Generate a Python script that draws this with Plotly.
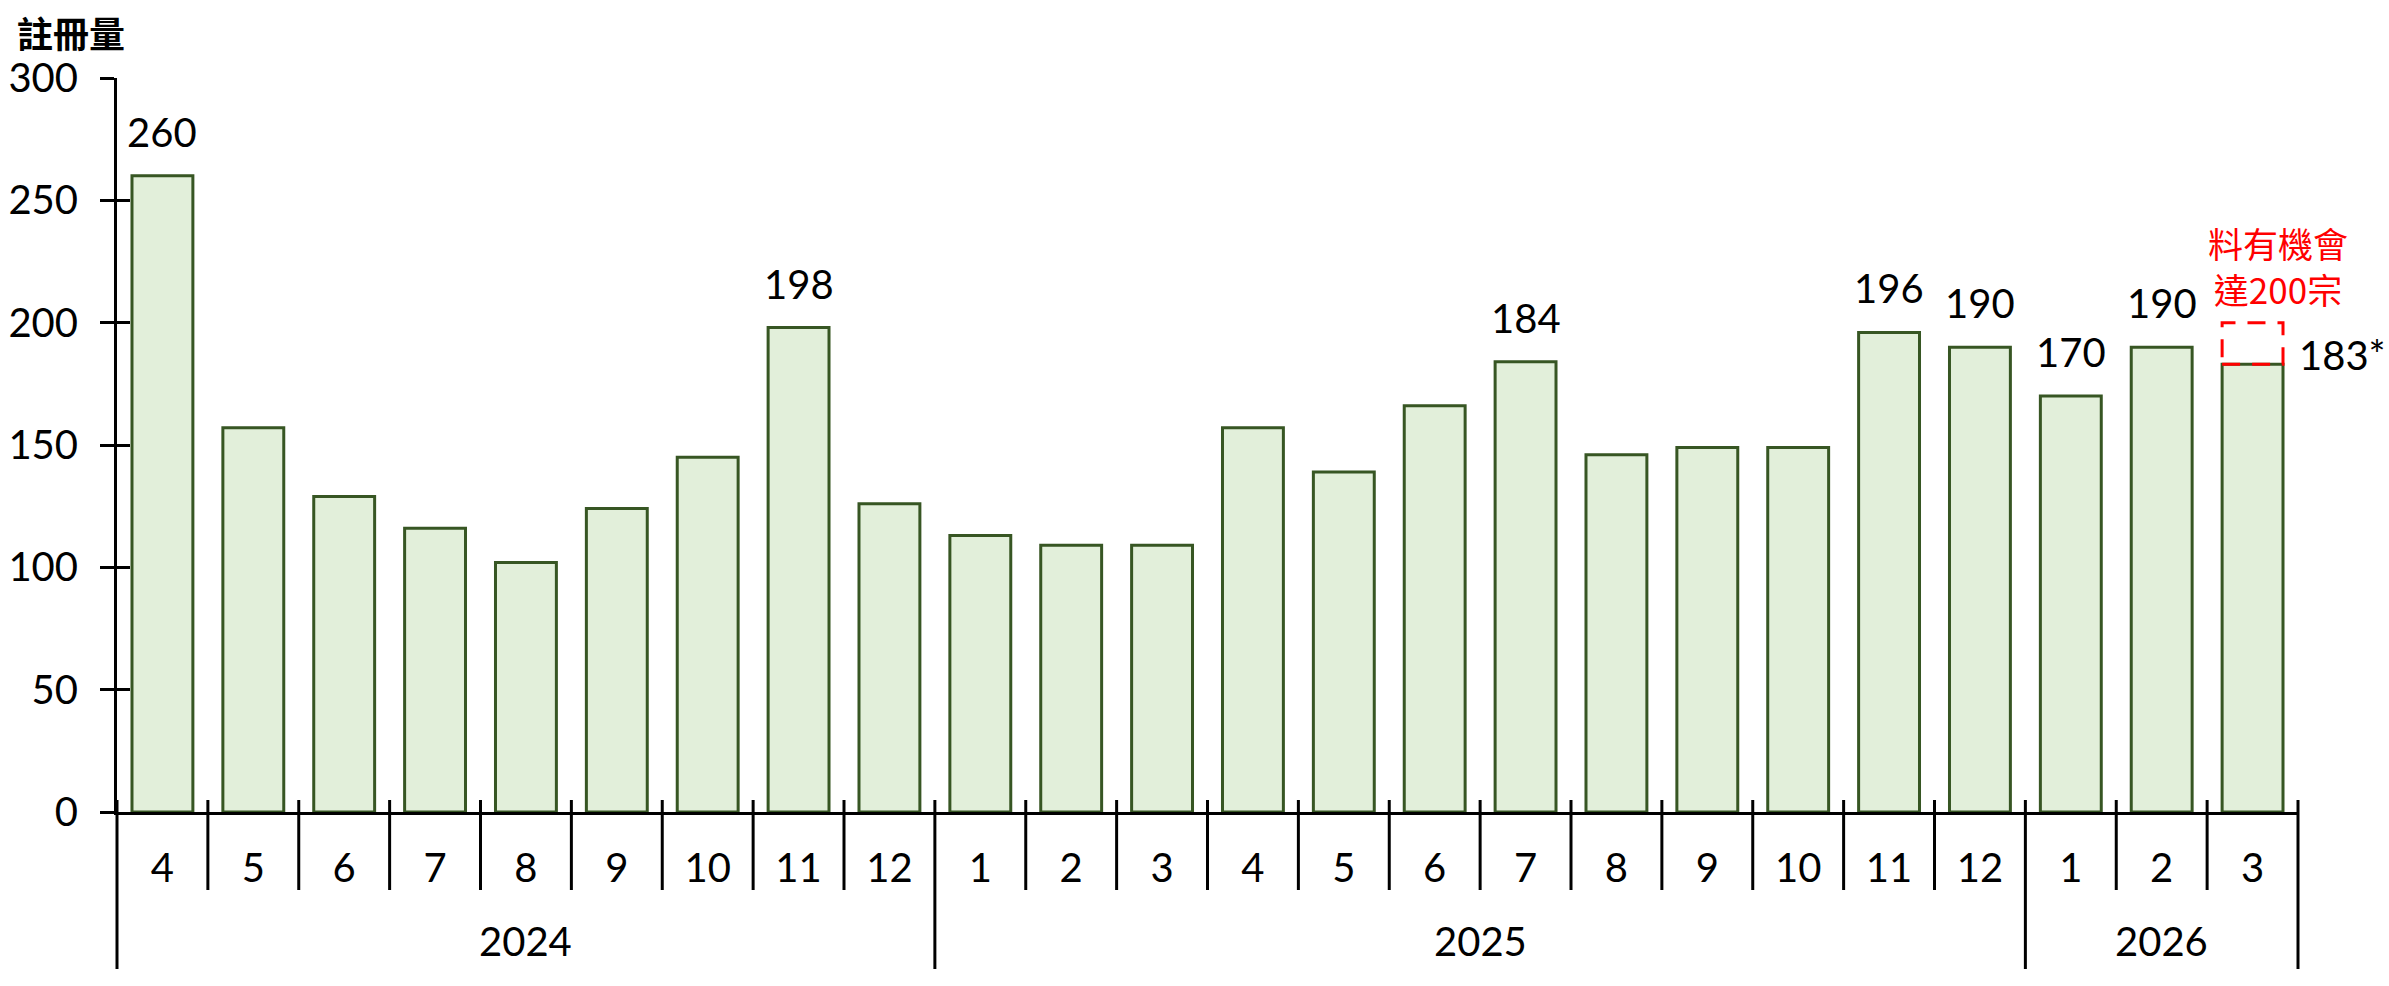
import plotly.graph_objects as go

# ---------------- data ----------------
months = ["4", "5", "6", "7", "8", "9", "10", "11", "12",
          "1", "2", "3", "4", "5", "6", "7", "8", "9", "10", "11", "12",
          "1", "2", "3"]
year_labels = ["2024", "2025", "2026"]
year_counts = [9, 12, 3]
registrations = [260, 157, 129, 116, 102, 124, 145, 198, 126,
                 113, 109, 109, 157, 139, 166, 184, 146, 149, 149, 196, 190,
                 170, 190, 183]
labelled_idx = [0, 7, 15, 19, 20, 21, 22]
target_value = 200
y_ticks = [0, 50, 100, 150, 200, 250, 300]
y_title = "註冊量"
target_text = "料有機會<br>達200宗"
latest_suffix = "*"

# ---------------- styles ----------------
W, H = 2389, 986
FONT = "Lato, 'Noto Sans CJK TC', sans-serif"
CJK = "'Noto Sans CJK TC', sans-serif"
FILL = "#E2EFDA"
EDGE = "#375623"
BAR_W = 0.67
NUM_SIZE = 40

x = list(range(len(registrations)))
n = len(x)

fig = go.Figure()
fig.add_trace(go.Bar(
    x=x, y=registrations, width=BAR_W,
    marker=dict(color=FILL, line=dict(color=EDGE, width=3)),
    hoverinfo="skip", showlegend=False,
))
# invisible trace on overlay axis to render inner tick halves
fig.add_trace(go.Scatter(x=[x[0]], y=[0], yaxis="y2", mode="markers",
                         marker=dict(opacity=0), showlegend=False, hoverinfo="skip"))

fig.update_layout(
    width=W, height=H,
    margin=dict(l=117, r=91, t=78, b=174, autoexpand=False),
    paper_bgcolor="white", plot_bgcolor="white",
    font=dict(family=FONT, color="black"),
    bargap=0.33,
    xaxis=dict(
        range=[-0.5, n - 0.5],
        tickvals=x, ticktext=months,
        showline=True, linecolor="black", linewidth=3,
        ticks="", showgrid=False, zeroline=False,
        tickfont=dict(size=NUM_SIZE, family=FONT),
        ticklabelstandoff=19, automargin=False,
    ),
    yaxis=dict(
        range=[0, 300], tickvals=y_ticks,
        showline=True, linecolor="black", linewidth=3,
        ticks="outside", ticklen=14, tickwidth=3, tickcolor="black",
        showgrid=False, zeroline=False,
        tickfont=dict(size=NUM_SIZE, family=FONT),
        ticklabelstandoff=14, automargin=False,
    ),
    yaxis2=dict(
        range=[0, 300], tickvals=y_ticks, overlaying="y", side="left",
        ticks="inside", ticklen=13, tickwidth=3, tickcolor="black",
        showticklabels=False, showline=False, showgrid=False, zeroline=False,
        automargin=False,
    ),
)

shapes = []
# category dividers below the x axis
boundaries = [0]
for c in year_counts:
    boundaries.append(boundaries[-1] + c)
for i in range(n + 1):
    long = i in boundaries
    shapes.append(dict(
        type="line", xref="x domain", yref="paper", ysizemode="pixel", yanchor=0,
        x0=i / n, x1=i / n, y0=12, y1=-157 if long else -78,
        line=dict(color="black", width=3),
    ))
# target dashed box on latest bar
last = n - 1
shapes.append(dict(
    type="rect", xref="x", yref="y",
    x0=last - BAR_W / 2, x1=last + BAR_W / 2,
    y0=registrations[last], y1=target_value,
    line=dict(color="#FF0000", width=3, dash="18px,12px"),
    fillcolor="rgba(0,0,0,0)",
))
fig.update_layout(shapes=shapes)

ann = []
# year group labels
for lab, s, c in zip(year_labels, boundaries[:-1], year_counts):
    ann.append(dict(x=s + c / 2 - 0.5, y=0, xref="x", yref="y", text=lab,
                    showarrow=False, yanchor="middle", yshift=-129,
                    font=dict(size=NUM_SIZE, family=FONT, color="black")))
# value labels
for i in labelled_idx:
    ann.append(dict(x=i, y=registrations[i], xref="x", yref="y",
                    text=str(registrations[i]), showarrow=False,
                    yanchor="middle", yshift=44,
                    font=dict(size=NUM_SIZE, family=FONT, color="black")))
# latest value label
ann.append(dict(x=last, y=registrations[last], xref="x", yref="y",
                text=f"{registrations[last]}{latest_suffix}", showarrow=False,
                xanchor="left", xshift=44, yanchor="middle", yshift=9,
                font=dict(size=NUM_SIZE, family=FONT, color="black")))
# target note
ann.append(dict(x=last, y=target_value, xref="x", yref="y",
                text=target_text, showarrow=False,
                xanchor="center", xshift=25, yanchor="middle", yshift=57,
                font=dict(size=35, family=CJK, color="#FF0000")))
# y title
ann.append(dict(x=0, y=1, xref="paper", yref="paper", text=f"<b>{y_title}</b>",
                showarrow=False, xanchor="left", xshift=-102,
                yanchor="middle", yshift=46,
                font=dict(size=36, family=CJK, color="black")))
fig.update_layout(annotations=ann)

fig.write_html(
    "out.html",
    config={"displayModeBar": False},
    post_script="document.body.style.margin='0';document.body.style.overflow='hidden';",
)
